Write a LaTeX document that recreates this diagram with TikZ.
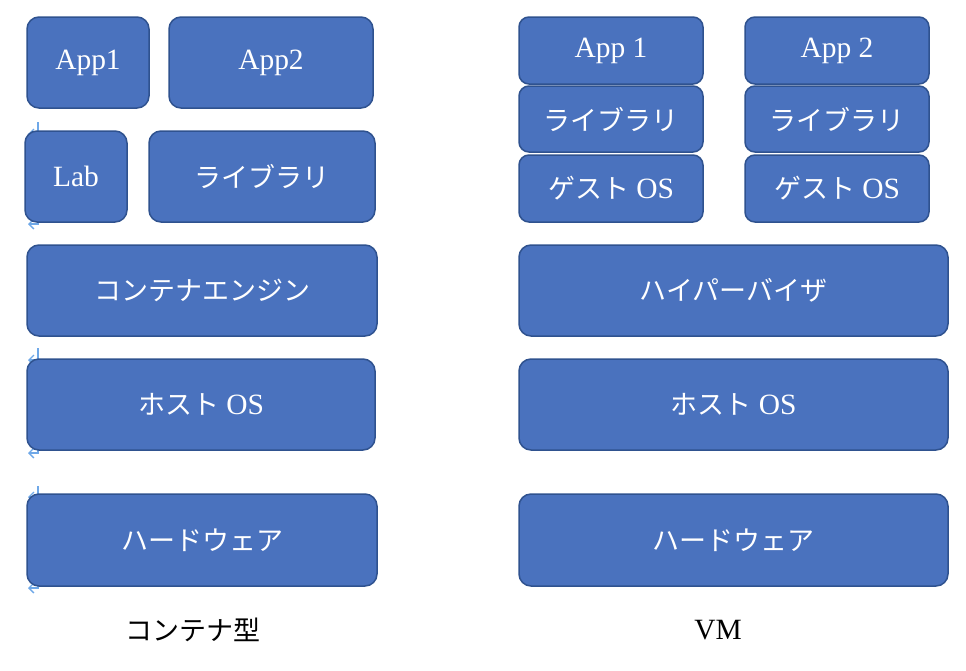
\documentclass[tikz,border=0pt]{standalone}
\usepackage{fontspec}
\setmainfont{Liberation Serif}[Scale=1.09]
\newfontfamily\jp{Noto Sans CJK JP}
\usetikzlibrary{arrows.meta}
\begin{document}
\begin{tikzpicture}[x=1pt,y=-1pt,
  blk/.style={draw=boxedge, fill=boxfill, line width=1.5pt, rounded corners=12pt,
    text=white, font=\fontsize{27}{32}\selectfont, inner sep=0pt},
  sblk/.style={blk, rounded corners=10pt},
  captext/.style={font=\fontsize{27}{32}\selectfont, text=black},
  art/.style={draw=artblue, line width=1.1pt},
  arttip/.style={art, -{Straight Barb[length=5pt,width=10pt,line width=1.3pt]}}
]
\definecolor{boxfill}{HTML}{4A72BE}
\definecolor{boxedge}{HTML}{2F528F}
\definecolor{artblue}{HTML}{6FA8E8}
\useasboundingbox (0,0) rectangle (966,670);
\fill[white] (0,0) rectangle (966,670);

% small leftover connector marks
\coordinate (a1t) at (38,122); \coordinate (a1c) at (38,134); \coordinate (a1h) at (28,134);
\coordinate (a1b) at (38,224); \coordinate (a1e) at (28,224);
\draw[arttip] (a1t) -- (a1c) -- (a1h);
\draw[arttip] (a1c) -- (a1b) -- (a1e);
\coordinate (a2t) at (38,348); \coordinate (a2c) at (38,360); \coordinate (a2h) at (28,360);
\coordinate (a2b) at (38,453); \coordinate (a2e) at (28,453);
\draw[arttip] (a2t) -- (a2c) -- (a2h);
\draw[arttip] (a2c) -- (a2b) -- (a2e);
\coordinate (a3t) at (38,486); \coordinate (a3c) at (38,497); \coordinate (a3h) at (28,497);
\coordinate (a3b) at (38,588); \coordinate (a3e) at (28,588);
\draw[arttip] (a3t) -- (a3c) -- (a3h);
\draw[arttip] (a3c) -- (a3b) -- (a3e);

% container side
\node[blk, minimum width=122pt, minimum height=91pt] (capp1) at (88,62.5) {App1};
\node[blk, minimum width=204pt, minimum height=91pt] (capp2) at (271,62.5) {App2};
\node[blk, minimum width=102pt, minimum height=91pt] (clab) at (76,176.5) {Lab};
\node[blk, minimum width=226pt, minimum height=91pt] (clib) at (262,176.5) {\jp ライブラリ};
\node[blk, minimum width=350pt, minimum height=91pt] (ceng) at (202,290.5) {\jp コンテナエンジン};
\node[blk, minimum width=348pt, minimum height=91pt] (chost) at (201,404.5) {{\jp ホスト} OS};
\node[blk, minimum width=350pt, minimum height=92pt] (chw) at (202,540) {\jp ハードウェア};
\node[captext] (ccap) at (193,630) {\jp コンテナ型};

% VM side
\node[sblk, minimum width=184pt, minimum height=67pt] (vapp1) at (611,50.5) {App 1};
\node[sblk, minimum width=184pt, minimum height=66pt] (vlib1) at (611,119) {\jp ライブラリ};
\node[sblk, minimum width=184pt, minimum height=67pt] (vos1) at (611,188.5) {{\jp ゲスト} OS};
\node[sblk, minimum width=184pt, minimum height=67pt] (vapp2) at (837,50.5) {App 2};
\node[sblk, minimum width=184pt, minimum height=66pt] (vlib2) at (837,119) {\jp ライブラリ};
\node[sblk, minimum width=184pt, minimum height=67pt] (vos2) at (837,188.5) {{\jp ゲスト} OS};
\node[blk, minimum width=429pt, minimum height=91pt] (vhyp) at (733.5,290.5) {\jp ハイパーバイザ};
\node[blk, minimum width=429pt, minimum height=91pt] (vhost) at (733.5,404.5) {{\jp ホスト} OS};
\node[blk, minimum width=429pt, minimum height=92pt] (vhw) at (733.5,540) {\jp ハードウェア};
\node[captext] (vcap) at (718,630) {VM};
\end{tikzpicture}
\end{document}
